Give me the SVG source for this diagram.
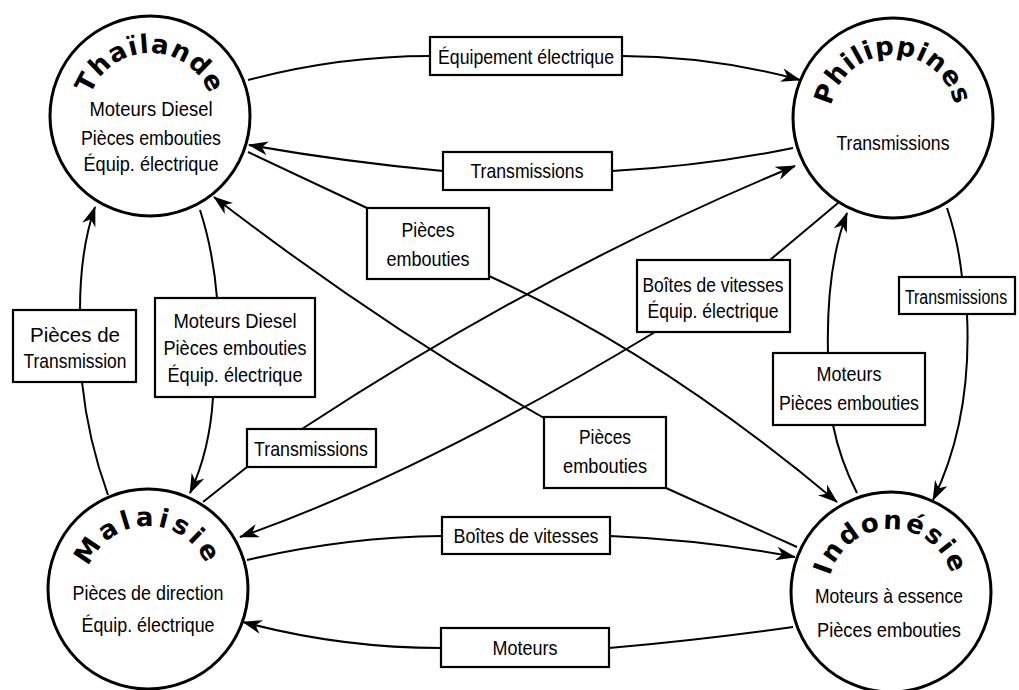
<svg xmlns="http://www.w3.org/2000/svg" width="1019" height="690" viewBox="0 0 1019 690">
  <style>
    .circle { fill: #fff; stroke: #000; stroke-width: 3; }
    .title { font-family: "DejaVu Sans", "Liberation Sans", sans-serif; font-weight: bold; font-size: 26px; fill: #000; }
    .body { font-family: "Liberation Sans", Arial, sans-serif; font-size: 21px; fill: #000; text-anchor: middle; }
    .edge { fill: none; stroke: #000; stroke-width: 2; marker-end: url(#arr); }
    .box { fill: #fff; stroke: #000; stroke-width: 2.2; }
  </style>
  <defs>
    <marker id="arr" viewBox="0 0 20 14" refX="19" refY="7" markerWidth="20" markerHeight="14" markerUnits="userSpaceOnUse" orient="auto">
      <path d="M0,0 L20,7 L0,14 L6,7 Z" fill="#000"/>
    </marker>
    <!-- arcs carrying the curved country names -->
    <path id="arcT" d="M87,116 A63,63 0 0 1 213,116"/>
    <path id="arcP" d="M830,118 A63,63 0 0 1 956,118"/>
    <path id="arcM" d="M85,589 A63,63 0 0 1 211,589"/>
    <path id="arcI" d="M828,592 A63,63 0 0 1 954,592"/>
  </defs>
  <rect width="1019" height="690" fill="#fff"/>

  <!-- country nodes -->
  <g id="thailande">
    <circle class="circle" cx="150" cy="116" r="100"/>
    <text class="title" letter-spacing="1.2"><textPath href="#arcT" startOffset="50%" text-anchor="middle">Thaïlande</textPath></text>
    <text class="body" x="151" y="116" textLength="123" lengthAdjust="spacingAndGlyphs">Moteurs Diesel</text>
    <text class="body" x="151" y="145" textLength="140" lengthAdjust="spacingAndGlyphs">Pièces embouties</text>
    <text class="body" x="151" y="171" textLength="135" lengthAdjust="spacingAndGlyphs">Équip. électrique</text>
  </g>
  <g id="philippines">
    <circle class="circle" cx="893" cy="118" r="100"/>
    <text class="title" letter-spacing="1"><textPath href="#arcP" startOffset="50%" text-anchor="middle">Philippines</textPath></text>
    <text class="body" x="893" y="150" textLength="113" lengthAdjust="spacingAndGlyphs">Transmissions</text>
  </g>
  <g id="malaisie">
    <circle class="circle" cx="148" cy="589" r="100"/>
    <text class="title" letter-spacing="4"><textPath href="#arcM" startOffset="50%" text-anchor="middle">Malaisie</textPath></text>
    <text class="body" x="148" y="600" textLength="151" lengthAdjust="spacingAndGlyphs">Pièces de direction</text>
    <text class="body" x="148" y="632" textLength="133" lengthAdjust="spacingAndGlyphs">Équip. électrique</text>
  </g>
  <g id="indonesie">
    <circle class="circle" cx="891" cy="592" r="100"/>
    <text class="title" letter-spacing="2.5"><textPath href="#arcI" startOffset="50%" text-anchor="middle">Indonésie</textPath></text>
    <text class="body" x="889" y="603" textLength="148" lengthAdjust="spacingAndGlyphs">Moteurs à essence</text>
    <text class="body" x="889" y="637" textLength="144" lengthAdjust="spacingAndGlyphs">Pièces embouties</text>
  </g>

  <!-- trade flows between countries, with their labels -->
  <g id="connectors">
    <path class="edge" d="M248,80 Q339,56 430,56 L622,56 Q711,56 800,80"/>
    <path class="edge" d="M793,148 Q705,166 612,171 L443,171 Q345,162 249,145"/>
    <path class="edge" d="M947,208 Q958,240 962,277 L967,314 Q972,420 933,500"/>
    <path class="edge" d="M857,493 Q840,460 833,425 L828,353 Q826,268 847,213"/>
    <path class="edge" d="M200,210 Q213,250 217,298 L213,397 Q210,450 190,493"/>
    <path class="edge" d="M108,495 Q88,440 82,382 L80,310 Q80,250 95,207"/>
    <path class="edge" d="M248,152 L367,208 L489,276 Q662,355 837,502"/>
    <path class="edge" d="M797,547 L666,488 L544,418 Q379,324 214,197"/>
    <path class="edge" d="M838,203 L770,260 L655,332 Q420,474 240,537"/>
    <path class="edge" d="M203,502 L247,467 L305,427 Q550,267 795,166"/>
    <path class="edge" d="M247,560 Q345,537 442,536 L610,536 Q705,540 795,557"/>
    <path class="edge" d="M793,627 Q700,640 609,648 L441,648 Q340,648 243,622"/>

    <g id="lbl-equipement">
      <rect class="box" x="430" y="37" width="192" height="38"/>
      <text class="body" x="526" y="64" textLength="176" lengthAdjust="spacingAndGlyphs">Équipement électrique</text>
    </g>
    <g id="lbl-transmissions-top">
      <rect class="box" x="443" y="152" width="169" height="38"/>
      <text class="body" x="527" y="178" textLength="113" lengthAdjust="spacingAndGlyphs">Transmissions</text>
    </g>
    <g id="lbl-pieces-upper">
      <rect class="box" x="367" y="208" width="122" height="71"/>
      <text class="body" x="428" y="237" textLength="53" lengthAdjust="spacingAndGlyphs">Pièces</text>
      <text class="body" x="428" y="266" textLength="83" lengthAdjust="spacingAndGlyphs">embouties</text>
    </g>
    <g id="lbl-pieces-transmission">
      <rect class="box" x="13" y="310" width="123" height="72"/>
      <text class="body" x="75" y="342" textLength="90" lengthAdjust="spacingAndGlyphs">Pièces de</text>
      <text class="body" x="75" y="368" textLength="103" lengthAdjust="spacingAndGlyphs">Transmission</text>
    </g>
    <g id="lbl-diesel">
      <rect class="box" x="155" y="298" width="160" height="99"/>
      <text class="body" x="235" y="328" textLength="123" lengthAdjust="spacingAndGlyphs">Moteurs Diesel</text>
      <text class="body" x="235" y="355" textLength="143" lengthAdjust="spacingAndGlyphs">Pièces embouties</text>
      <text class="body" x="235" y="382" textLength="135" lengthAdjust="spacingAndGlyphs">Équip. électrique</text>
    </g>
    <g id="lbl-transmissions-left">
      <rect class="box" x="247" y="429" width="129" height="38"/>
      <text class="body" x="311" y="456" textLength="114" lengthAdjust="spacingAndGlyphs">Transmissions</text>
    </g>
    <g id="lbl-pieces-lower">
      <rect class="box" x="544" y="417" width="122" height="71"/>
      <text class="body" x="605" y="444" textLength="52" lengthAdjust="spacingAndGlyphs">Pièces</text>
      <text class="body" x="605" y="473" textLength="84" lengthAdjust="spacingAndGlyphs">embouties</text>
    </g>
    <g id="lbl-boites">
      <rect class="box" x="442" y="517" width="168" height="37"/>
      <text class="body" x="526" y="543" textLength="145" lengthAdjust="spacingAndGlyphs">Boîtes de vitesses</text>
    </g>
    <g id="lbl-moteurs">
      <rect class="box" x="441" y="628" width="168" height="39"/>
      <text class="body" x="525" y="655" textLength="65" lengthAdjust="spacingAndGlyphs">Moteurs</text>
    </g>
    <g id="lbl-boites-equip">
      <rect class="box" x="637" y="260" width="153" height="72"/>
      <text class="body" x="713" y="292" textLength="141" lengthAdjust="spacingAndGlyphs">Boîtes de vitesses</text>
      <text class="body" x="713" y="318" textLength="131" lengthAdjust="spacingAndGlyphs">Équip. électrique</text>
    </g>
    <g id="lbl-transmissions-right">
      <rect class="box" x="899" y="277" width="116" height="37"/>
      <!-- narrowed horizontally so the word fits inside the box at the page edge -->
      <text class="body" transform="translate(956,304) scale(0.76,1)" x="0" y="0">Transmissions</text>
    </g>
    <g id="lbl-moteurs-pieces">
      <rect class="box" x="773" y="353" width="152" height="72"/>
      <text class="body" x="849" y="381" textLength="65" lengthAdjust="spacingAndGlyphs">Moteurs</text>
      <text class="body" x="849" y="410" textLength="140" lengthAdjust="spacingAndGlyphs">Pièces embouties</text>
    </g>
  </g>
</svg>
